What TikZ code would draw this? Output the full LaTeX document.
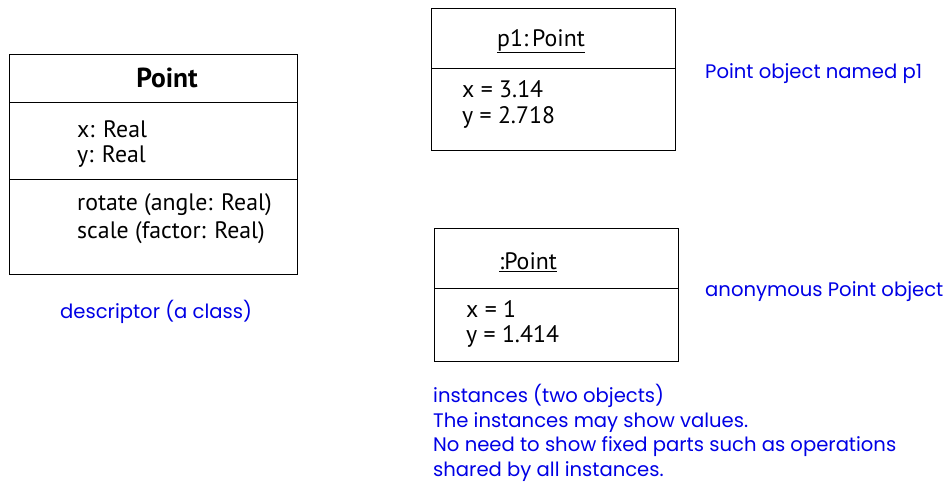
\documentclass[tikz,border=0pt]{standalone}
\usepackage{fontspec}
\setmainfont{PT Sans}
\newfontfamily\notefont{Poppins}
\begin{document}
\begin{tikzpicture}[x=1pt,y=-1pt,
  box/.style={draw=black,line width=0.9pt,inner sep=0pt,outer sep=0pt},
  txt/.style={anchor=west,inner sep=0pt,font=\fontsize{23.8}{24}\selectfont},
  note/.style={anchor=west,inner sep=0pt,text=blue!90!black,font=\notefont\fontsize{19.6}{20}\selectfont},
  divider/.style={line width=0.9pt}]
\useasboundingbox (0,0) rectangle (945,484);
% class box
\node[box,minimum width=288pt,minimum height=220pt] (cls) at (153,164) {};
\draw[divider] (cls.west |- 0,102) -- (cls.east |- 0,102);
\draw[divider] (cls.west |- 0,179) -- (cls.east |- 0,179);
\node[inner sep=0pt,font=\bfseries\fontsize{27.5}{28}\selectfont] (clsname) at (167,78) {Point};
\node[txt] (a1) at (77,129) {x: Real};
\node[txt] (a2) at (77,157) {y: Real};
\node[txt] (o1) at (77,205) {rotate (angle: Real)};
\node[txt] (o2) at (77,233) {scale (factor: Real)};
\node[note] (n1) at (60,312) {descriptor (a class)};
% object p1
\node[box,minimum width=244pt,minimum height=142pt] (p1) at (553,79) {};
\draw[divider] (p1.west |- 0,68) -- (p1.east |- 0,68);
\node[inner sep=0pt,font=\fontsize{23.8}{24}\selectfont] (p1name) at (541,41) {\underline{p1:\,Point}};
\node[txt] (p1x) at (462,89) {x = 3.14};
\node[txt] (p1y) at (462,117) {y = 2.718};
\node[note] (n2) at (705,74) {Point object named p1};
% anonymous object
\node[box,minimum width=244pt,minimum height=133pt] (p2) at (556,294.5) {};
\draw[divider] (p2.west |- 0,288) -- (p2.east |- 0,288);
\node[inner sep=0pt,font=\fontsize{23.8}{24}\selectfont] (p2name) at (528,262) {\underline{:Point}};
\node[txt] (p2x) at (466,309) {x = 1};
\node[txt] (p2y) at (466,336) {y = 1.414};
\node[note] (n3) at (705,292) {anonymous Point object};
% instances note
\node[note,anchor=north west,align=left,font=\notefont\fontsize{19.6}{24.5}\selectfont] (n4) at (433,384)
  {instances (two objects)\\The instances may show values.\\No need to show fixed parts such as operations\\shared by all instances.};
\end{tikzpicture}
\end{document}
